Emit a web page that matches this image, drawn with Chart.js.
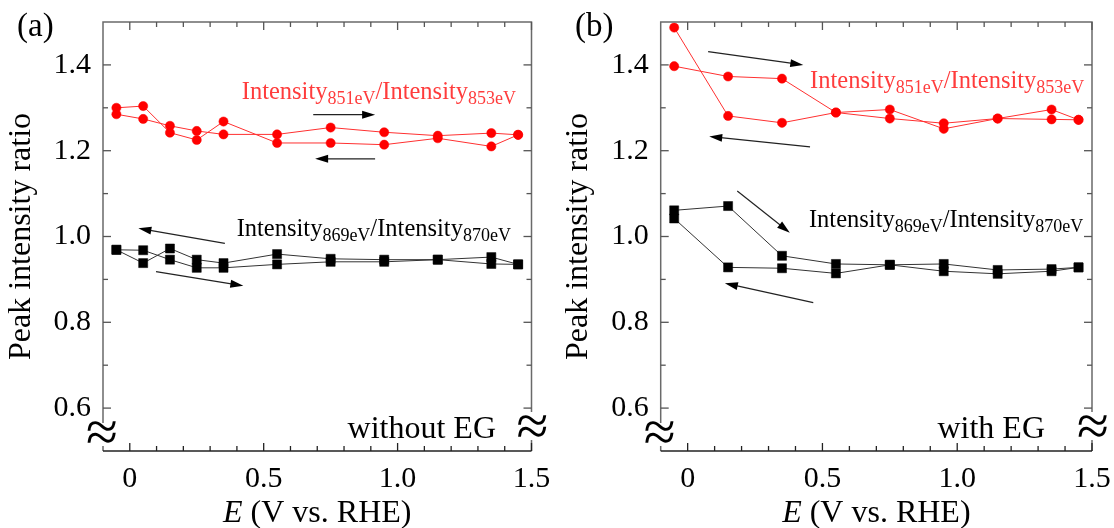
<!DOCTYPE html>
<html>
<head>
<meta charset="utf-8">
<script src="https://cdn.jsdelivr.net/npm/chart.js@4.4.0/dist/chart.umd.min.js"></script>
<style>
  body { margin: 0; background: #fff; }
  .panel { position: absolute; top: 0; width: 557px; height: 528px; }
</style>
</head>
<body>
<div class="panel" style="left:0"><canvas id="chartA" width="557" height="528"></canvas></div>
<div class="panel" style="left:557px"><canvas id="chartB" width="557" height="528"></canvas></div>
<script>
// potentials (V vs. RHE)
const xA = [-0.05, 0.05, 0.15, 0.25, 0.35, 0.55, 0.75, 0.95, 1.15, 1.35, 1.45];
const xB = [-0.05, 0.15, 0.35, 0.55, 0.75, 0.95, 1.15, 1.35, 1.45];

// (a) without EG
const redA1 = [1.300, 1.304, 1.242, 1.225, 1.268, 1.218, 1.218, 1.214, 1.229, 1.210, 1.237];
const redA2 = [1.285, 1.274, 1.258, 1.246, 1.238, 1.238, 1.254, 1.243, 1.235, 1.241, 1.237];
const blackA1 = [0.969, 0.968, 0.946, 0.927, 0.927, 0.935, 0.941, 0.941, 0.946, 0.936, 0.935];
const blackA2 = [0.969, 0.938, 0.972, 0.946, 0.938, 0.959, 0.948, 0.946, 0.946, 0.952, 0.935];

// (b) with EG
const redB1 = [1.397, 1.373, 1.368, 1.289, 1.275, 1.264, 1.275, 1.273, 1.272];
const redB2 = [1.487, 1.281, 1.265, 1.289, 1.296, 1.251, 1.275, 1.296, 1.272];
const blackB1 = [1.061, 1.071, 0.955, 0.936, 0.934, 0.936, 0.922, 0.924, 0.928];
const blackB2 = [1.042, 0.928, 0.926, 0.914, 0.934, 0.919, 0.913, 0.919, 0.928];

// ticks
const xTicks = [0, 0.5, 1.0, 1.5];
const xMinor = [0.1, 0.2, 0.3, 0.4, 0.6, 0.7, 0.8, 0.9, 1.1, 1.2, 1.3, 1.4];
const yTicks = [0.6, 0.8, 1.0, 1.2, 1.4];
const yMinor = [0.7, 0.9, 1.1, 1.3];

const FONT = '"Liberation Serif", "Times New Roman", serif';

// arrows [x1, y1, x2, y2] in data units, head at the second point
const arrowsA = [[0.685, 1.284, 0.916, 1.284], [0.916, 1.181, 0.692, 1.181],
                 [0.355, 0.984, 0.032, 1.019], [0.098, 0.918, 0.424, 0.885]];
const arrowsB = [[0.076, 1.431, 0.429, 1.400], [0.454, 1.209, 0.080, 1.233],
                 [0.184, 1.106, 0.379, 1.009], [0.466, 0.846, 0.138, 0.891]];

function drawArrow(ctx, x1, y1, x2, y2) {
  const a = Math.atan2(y2 - y1, x2 - x1);
  const hl = 13, hw = 4;
  const c = Math.cos(a), s = Math.sin(a);
  ctx.beginPath();
  ctx.moveTo(x1, y1);
  ctx.lineTo(x2 - hl * 0.7 * c, y2 - hl * 0.7 * s);
  ctx.stroke();
  ctx.beginPath();
  ctx.moveTo(x2, y2);
  ctx.lineTo(x2 - hl * c + hw * s, y2 - hl * s - hw * c);
  ctx.lineTo(x2 - hl * c - hw * s, y2 - hl * s + hw * c);
  ctx.closePath();
  ctx.fill();
}

function drawSubLabel(ctx, x, y, parts, color) {
  ctx.fillStyle = color;
  ctx.textAlign = 'left';
  ctx.textBaseline = 'alphabetic';
  let cx = x;
  parts.forEach(([t, sub]) => {
    ctx.font = (sub ? '18px ' : '24.5px ') + FONT;
    ctx.fillText(t, cx, sub ? y + 5 : y);
    cx += ctx.measureText(t).width;
  });
}

function framePlugin(p) {
  return {
    id: 'frame' + p.tag,
    afterDraw(chart) {
      const ctx = chart.ctx;
      const {left, right, top, bottom} = chart.chartArea;
      const xs = chart.scales.x, ys = chart.scales.y;
      ctx.save();
      // frame
      ctx.lineWidth = 1.5;
      ctx.strokeStyle = '#6a6a6a';
      ctx.beginPath();
      ctx.moveTo(left, bottom); ctx.lineTo(left, top); ctx.lineTo(right, top); ctx.lineTo(right, bottom);
      ctx.stroke();
      ctx.strokeStyle = '#222';
      ctx.beginPath(); ctx.moveTo(left, bottom); ctx.lineTo(right, bottom); ctx.stroke();

      // inward ticks
      ctx.lineWidth = 1.3;
      const tickX = (v, len) => {
        const px = xs.getPixelForValue(v);
        ctx.strokeStyle = '#222';
        ctx.beginPath(); ctx.moveTo(px, bottom); ctx.lineTo(px, bottom - len); ctx.stroke();
        ctx.strokeStyle = '#555';
        ctx.beginPath(); ctx.moveTo(px, top); ctx.lineTo(px, top + len); ctx.stroke();
      };
      const tickY = (v, len) => {
        const py = ys.getPixelForValue(v);
        ctx.strokeStyle = '#555';
        ctx.beginPath(); ctx.moveTo(left, py); ctx.lineTo(left + len, py); ctx.stroke();
        ctx.beginPath(); ctx.moveTo(right, py); ctx.lineTo(right - len, py); ctx.stroke();
      };
      xTicks.forEach(v => tickX(v, 8));
      xMinor.forEach(v => tickX(v, 5));
      yTicks.forEach(v => tickY(v, 8));
      yMinor.forEach(v => tickY(v, 5));

      // axis breaks
      ctx.fillStyle = '#fff';
      ctx.fillRect(left - 3, bottom - 28, 6, 23);
      ctx.fillRect(right - 3, bottom - 39, 6, 28);
      ctx.fillStyle = '#000';
      ctx.font = '58px ' + FONT;
      ctx.textAlign = 'center';
      ctx.textBaseline = 'middle';
      ctx.fillText('\u2248', left - 1, bottom - 15);
      ctx.fillText('\u2248', right + 1, bottom - 21);

      // condition text
      ctx.font = '32px ' + FONT;
      ctx.textAlign = 'right';
      ctx.textBaseline = 'alphabetic';
      ctx.fillText(p.cond, p.condX, 438);

      // panel label
      ctx.font = '33px ' + FONT;
      ctx.textAlign = 'left';
      ctx.textBaseline = 'middle';
      ctx.fillText(p.tag, p.tagX, 27);

      // x axis title
      const cx = (left + right) / 2;
      ctx.font = 'italic 32px ' + FONT;
      const w1 = ctx.measureText('E').width;
      ctx.font = '32px ' + FONT;
      const rest = ' (V vs. RHE)';
      const w2 = ctx.measureText(rest).width;
      const sx = cx - (w1 + w2) / 2;
      ctx.textAlign = 'left';
      ctx.textBaseline = 'middle';
      ctx.font = 'italic 32px ' + FONT;
      ctx.fillText('E', sx, 514);
      ctx.font = '32px ' + FONT;
      ctx.fillText(rest, sx + w1, 514);

      // intensity labels
      const rl = p.redLabel, bl = p.blackLabel;
      drawSubLabel(ctx, xs.getPixelForValue(rl[0]), ys.getPixelForValue(rl[1]),
        [['Intensity', false], ['851eV', true], ['/Intensity', false], ['853eV', true]], '#ff3c3c');
      drawSubLabel(ctx, xs.getPixelForValue(bl[0]), ys.getPixelForValue(bl[1]),
        [['Intensity', false], ['869eV', true], ['/Intensity', false], ['870eV', true]], '#000');

      // arrows
      ctx.strokeStyle = '#222';
      ctx.fillStyle = '#000';
      ctx.lineWidth = 1.2;
      p.arrows.forEach(a => drawArrow(ctx,
        xs.getPixelForValue(a[0]), ys.getPixelForValue(a[1]),
        xs.getPixelForValue(a[2]), ys.getPixelForValue(a[3])));
      ctx.restore();
    }
  };
}

function buildConfig(xs, r1, r2, b1, b2, p) {
  const pts = ys => xs.map((x, i) => ({x: x, y: ys[i]}));
  const redSet = ys => ({
    data: pts(ys), borderColor: '#ff3030', backgroundColor: '#ff0000',
    borderWidth: 1, pointStyle: 'circle', pointRadius: 4.6,
    pointBorderColor: '#ff0000', pointBorderWidth: 0.5, tension: 0
  });
  const blackSet = ys => ({
    data: pts(ys), borderColor: '#333', backgroundColor: '#000',
    borderWidth: 1, pointStyle: 'rect', pointRadius: 6.4,
    pointBorderColor: '#000', pointBorderWidth: 0.5, tension: 0
  });
  return {
    type: 'line',
    data: { datasets: [redSet(r1), redSet(r2), blackSet(b1), blackSet(b2)] },
    options: {
      responsive: false,
      animation: false,
      clip: false,
      layout: { padding: { left: 0, top: 20, right: p.padRight, bottom: 0 } },
      plugins: { legend: { display: false }, tooltip: { enabled: false } },
      scales: {
        x: {
          type: 'linear', min: -0.1, max: 1.5,
          grid: { display: false }, border: { display: false },
          afterBuildTicks: s => { s.ticks = xTicks.map(v => ({value: v})); },
          afterFit: s => { s.height = 77; },
          ticks: {
            font: { family: FONT, size: 30 }, color: '#000', padding: 2,
            maxRotation: 0, autoSkip: false,
            callback: v => v === 0 ? '0' : v.toFixed(1)
          }
        },
        y: {
          type: 'linear', min: 0.5, max: 1.5,
          grid: { display: false }, border: { display: false },
          afterBuildTicks: s => { s.ticks = yTicks.map(v => ({value: v})); },
          afterFit: s => { s.width = p.left; },
          ticks: {
            font: { family: FONT, size: 30 }, color: '#000', padding: 4,
            callback: v => v.toFixed(1)
          },
          title: {
            display: true, text: 'Peak intensity ratio',
            font: { family: FONT, size: 32 }, color: '#000',
            padding: { top: 2, bottom: 0 }
          }
        }
      }
    },
    plugins: [framePlugin(p)]
  };
}

new Chart(document.getElementById('chartA'), buildConfig(xA, redA1, redA2, blackA1, blackA2, {
  tag: '(a)', tagX: 17, left: 103, padRight: 25.5, cond: 'without EG', condX: 496,
  redLabel: [0.418, 1.321], blackLabel: [0.399, 1.001], arrows: arrowsA
}));

new Chart(document.getElementById('chartB'), buildConfig(xB, redB1, redB2, blackB1, blackB2, {
  tag: '(b)', tagX: 18, left: 103.7, padRight: 22, cond: 'with EG', condX: 488,
  redLabel: [0.454, 1.346], blackLabel: [0.450, 1.023], arrows: arrowsB
}));
</script>
</body>
</html>
